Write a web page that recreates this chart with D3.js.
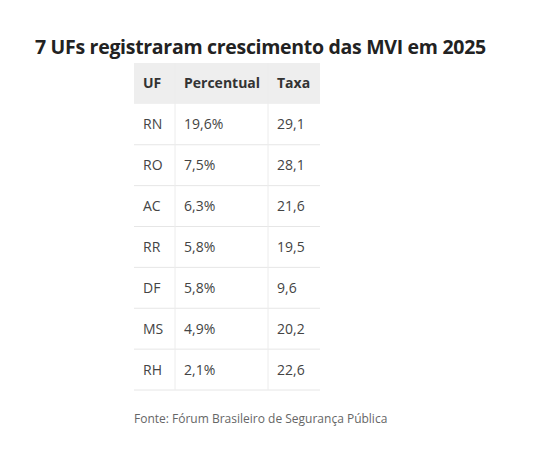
<!DOCTYPE html><html><head><meta charset="utf-8"><script src="https://cdn.jsdelivr.net/npm/d3@7"></script>
<style>body{margin:0;background:#fff}</style></head><body><script>
const headers=["UF","Percentual","Taxa"];
const ufs=["RN","RO","AC","RR","DF","MS","RH"];
const percentual=["19,6%","7,5%","6,3%","5,8%","5,8%","4,9%","2,1%"];
const taxa=["29,1","28,1","21,6","19,5","9,6","20,2","22,6"];
const W=548,H=457,F="'Open Sans',sans-serif";
const svg=d3.select("body").append("svg").attr("width",W).attr("height",H);
svg.append("text").attr("x",35).attr("y",54).attr("font-family",F).attr("font-weight",700).attr("font-size",19.5).attr("fill","#222").attr("letter-spacing",-0.3).text("7 UFs registraram crescimento das MVI em 2025");
const colX=[134,175,268,320];
const y=d3.scaleBand().domain(d3.range(8)).range([63,390]);
svg.append("rect").attr("x",colX[0]).attr("y",y(0)).attr("width",colX[3]-colX[0]).attr("height",y.bandwidth()).attr("fill","#eeeeee");
for(let i=1;i<8;i++)svg.append("line").attr("x1",colX[0]).attr("x2",colX[3]).attr("y1",y(i)+y.bandwidth()).attr("y2",y(i)+y.bandwidth()).attr("stroke","#e6e6e6");
for(let i=1;i<3;i++)svg.append("line").attr("x1",colX[i]).attr("x2",colX[i]).attr("y1",y(0)).attr("y2",y(7)+y.bandwidth()).attr("stroke","#ececec");
headers.forEach((h,j)=>svg.append("text").attr("x",colX[j]+9).attr("y",y(0)+y.bandwidth()/2+5).attr("font-family",F).attr("font-weight",700).attr("font-size",14).attr("fill","#333").text(h));
const rows=ufs.map((u,i)=>[u,percentual[i],taxa[i]]);
rows.forEach((r,i)=>r.forEach((v,j)=>svg.append("text").attr("x",colX[j]+9).attr("y",y(i+1)+y.bandwidth()/2+5).attr("font-family",F).attr("font-size",14).attr("fill","#444").text(v)));
svg.append("text").attr("x",134).attr("y",423).attr("font-family",F).attr("font-size",12).attr("fill","#666").text("Fonte: Fórum Brasileiro de Segurança Pública");
</script></body></html>
